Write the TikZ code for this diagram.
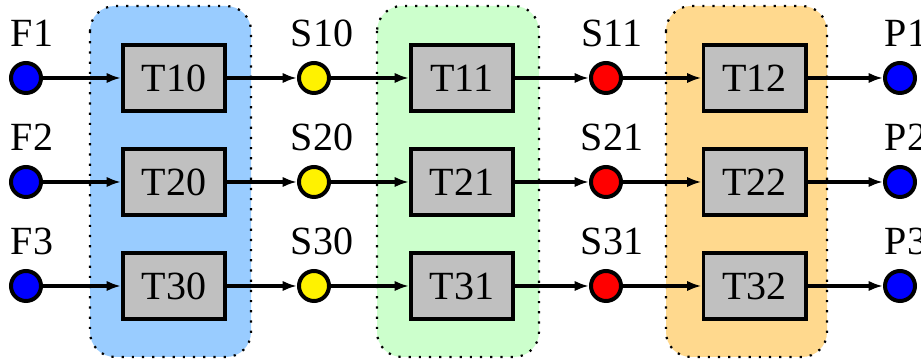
\documentclass[tikz,border=0pt]{standalone}
\usepackage{fontspec}
\setmainfont{Liberation Serif}
\usetikzlibrary{arrows.meta}

\definecolor{stageblue}{RGB}{153,204,255}
\definecolor{stagegreen}{RGB}{204,255,204}
\definecolor{stageorange}{RGB}{255,217,142}
\definecolor{taskgray}{RGB}{192,192,192}

\tikzset{
  task/.style={draw, line width=0.9pt, fill=taskgray, minimum width=25.6pt, minimum height=16.6pt, inner sep=0pt},
  state/.style={draw, circle, line width=1pt, minimum size=7.5pt, inner sep=0pt},
  flow/.style={line width=0.8pt, -{Latex[length=3.6pt,width=2.6pt]}},
  stage/.style={draw, dotted, line width=0.55pt, rounded corners=6.25pt}
}

\begin{document}
\begin{tikzpicture}[x=0.25pt, y=-0.25pt]
\useasboundingbox (0,0) rectangle (921,361);
% stages
\draw[stage, fill=stageblue]   (90,6)  rectangle (251,357);
\draw[stage, fill=stagegreen]  (377,6) rectangle (539,357);
\draw[stage, fill=stageorange] (666,6) rectangle (827,357);
% feeds
\node[state, fill=blue, label={[xshift=1.5pt]above:F1}] (F1) at (26,78) {};
\node[state, fill=blue, label={[xshift=1.5pt]above:F2}] (F2) at (26,182) {};
\node[state, fill=blue, label={[xshift=1.5pt]above:F3}] (F3) at (26,286) {};
% first tasks
\node[task] (T10) at (174,78) {T10};
\node[task] (T20) at (174,182) {T20};
\node[task] (T30) at (174,286) {T30};
% intermediate states
\node[state, fill=yellow, label={[xshift=2pt]above:S10}] (S10) at (314,78) {};
\node[state, fill=yellow, label={[xshift=2pt]above:S20}] (S20) at (314,182) {};
\node[state, fill=yellow, label={[xshift=2pt]above:S30}] (S30) at (314,286) {};
% second tasks
\node[task] (T11) at (462,78) {T11};
\node[task] (T21) at (462,182) {T21};
\node[task] (T31) at (462,286) {T31};
\node[state, fill=red, label={[xshift=1.5pt]above:S11}] (S11) at (606,78) {};
\node[state, fill=red, label={[xshift=1.5pt]above:S21}] (S21) at (606,182) {};
\node[state, fill=red, label={[xshift=1.5pt]above:S31}] (S31) at (606,286) {};
% third tasks
\node[task] (T12) at (754.5,78) {T12};
\node[task] (T22) at (754.5,182) {T22};
\node[task] (T32) at (754.5,286) {T32};
% products
\node[state, fill=blue, label={[xshift=1.5pt]above:P1}] (P1) at (900,78) {};
\node[state, fill=blue, label={[xshift=1.5pt]above:P2}] (P2) at (900,182) {};
\node[state, fill=blue, label={[xshift=1.5pt]above:P3}] (P3) at (900,286) {};
% flows
\draw[flow] (F1) -- (T10);
\draw[flow] (F2) -- (T20);
\draw[flow] (F3) -- (T30);
\draw[flow] (T10) -- (S10);
\draw[flow] (T20) -- (S20);
\draw[flow] (T30) -- (S30);
\draw[flow] (S10) -- (T11);
\draw[flow] (S20) -- (T21);
\draw[flow] (S30) -- (T31);
\draw[flow] (T11) -- (S11);
\draw[flow] (T21) -- (S21);
\draw[flow] (T31) -- (S31);
\draw[flow] (S11) -- (T12);
\draw[flow] (S21) -- (T22);
\draw[flow] (S31) -- (T32);
\draw[flow] (T12) -- (P1);
\draw[flow] (T22) -- (P2);
\draw[flow] (T32) -- (P3);
\end{tikzpicture}
\end{document}
